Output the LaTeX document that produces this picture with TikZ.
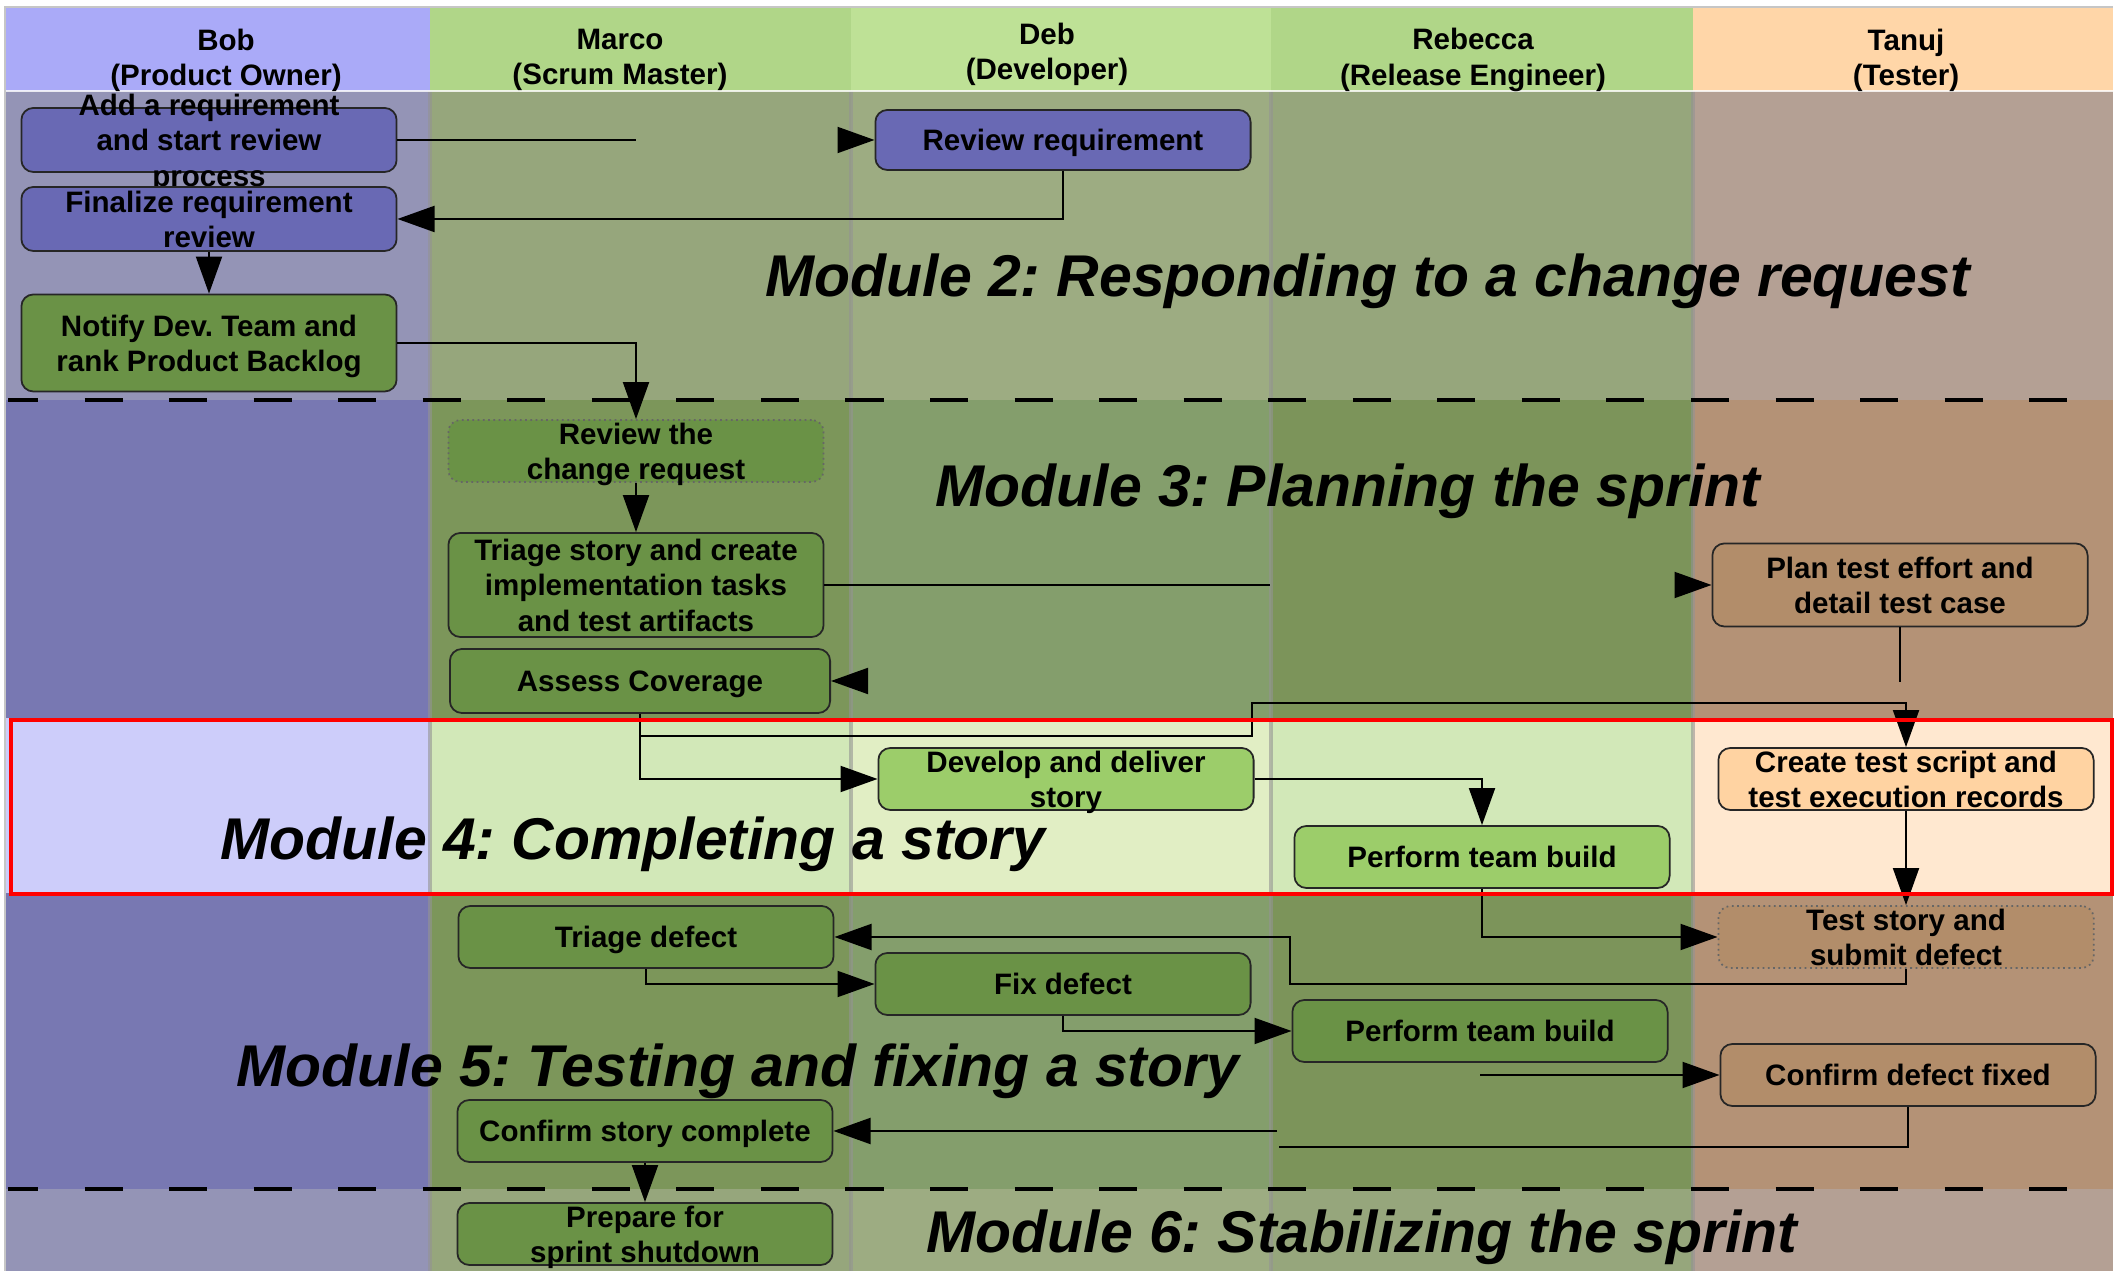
\documentclass[tikz,border=0pt]{standalone}
\usepackage{fontspec}
\setmainfont{Liberation Sans}
\usetikzlibrary{arrows.meta}
\frenchspacing

\definecolor{bobHead}{RGB}{170,170,248}
\definecolor{bobLt}{RGB}{148,148,182}
\definecolor{bobDk}{RGB}{120,120,178}
\definecolor{bobPl}{RGB}{205,205,250}
\definecolor{marHead}{RGB}{176,214,136}
\definecolor{marLt}{RGB}{150,166,124}
\definecolor{marDk}{RGB}{124,150,90}
\definecolor{marPl}{RGB}{210,232,184}
\definecolor{debHead}{RGB}{190,225,150}
\definecolor{debLt}{RGB}{157,172,130}
\definecolor{debDk}{RGB}{132,158,108}
\definecolor{debPl}{RGB}{225,238,196}
\definecolor{rebHead}{RGB}{176,214,136}
\definecolor{rebLt}{RGB}{150,166,124}
\definecolor{rebDk}{RGB}{124,148,90}
\definecolor{rebPl}{RGB}{210,232,184}
\definecolor{tanHead}{RGB}{255,214,168}
\definecolor{tanLt}{RGB}{180,160,148}
\definecolor{tanDk}{RGB}{180,146,118}
\definecolor{tanPl}{RGB}{255,232,208}
\definecolor{reqBlue}{RGB}{105,105,180}
\definecolor{taskGreen}{RGB}{106,146,70}
\definecolor{buildGreen}{RGB}{156,205,106}
\definecolor{testBrown}{RGB}{178,141,106}
\definecolor{testPeach}{RGB}{255,211,162}

\newcommand\taskfont{\fontsize{8.4}{10}\selectfont\bfseries}
\newcommand\titlefont{\fontsize{16.75}{20}\selectfont\bfseries\itshape}
\newcommand\tasktext[1]{\smash{\raisebox{-3.1pt}{\begin{tabular}{@{}c@{}}#1\end{tabular}}}}

\begin{document}
\begin{tikzpicture}[
    x=0.01cm,y=-0.01cm,
    every node/.style={font=\taskfont},
    task/.style={draw=black!85, line width=0.5pt, rounded corners=3.4pt, inner sep=0pt,
        minimum width=3.75cm, minimum height=0.62cm},
    bluetask/.style={task, fill=reqBlue, minimum height=0.64cm},
    greentask/.style={task, fill=taskGreen},
    dimtask/.style={task, fill=taskGreen, draw=black!60, densely dotted},
    lighttask/.style={task, fill=buildGreen},
    browntask/.style={task, fill=testBrown},
    peachtask/.style={task, fill=testPeach},
    lanehead/.style={align=center},
    modtitle/.style={anchor=base west, inner sep=0pt, font=\titlefont},
    wire/.style={draw=black, line width=0.55pt},
    flow/.style={wire, -{Triangle[length=0.37cm,width=0.26cm]}},
    bandline/.style={draw=black, line width=1.4pt, dash pattern=on 0.38cm off 0.465cm, dash phase=0.08cm},
    lanesep/.style={draw=gray!85, line width=1pt, opacity=0.6},
    focus/.style={draw=red, line width=1.4pt}
]
    \useasboundingbox (0,0) rectangle (2118,1271);

    \foreach \xa/\xb/\hd/\lt/\dk/\pl in {6/430/bobHead/bobLt/bobDk/bobPl,
        430/851/marHead/marLt/marDk/marPl, 851/1271/debHead/debLt/debDk/debPl,
        1271/1693/rebHead/rebLt/rebDk/rebPl, 1693/2113/tanHead/tanLt/tanDk/tanPl} {
        \fill[\hd] (\xa,8) rectangle (\xb,91);
        \fill[\lt] (\xa,91) rectangle (\xb,400);
        \fill[\dk] (\xa,400) rectangle (\xb,718);
        \fill[\pl] (\xa,718) rectangle (\xb,893);
        \fill[\dk] (\xa,893) rectangle (\xb,1189);
        \fill[\lt] (\xa,1189) rectangle (\xb,1271);
    }
    \foreach \x in {430,851,1271,1693} {
        \draw[lanesep] (\x,91) -- (\x,1271);
    }
    \draw[white, line width=0.8pt, opacity=0.8] (6,91) -- (2113,91);
    \draw[gray!45, line width=0.6pt] (5,1271) -- (5,7) -- (2113,7);
    \draw[bandline] (8,400) -- (2113,400);
    \draw[bandline] (8,1189) -- (2113,1189);

    \foreach \cx/\cy/\who/\role in {226/60/Bob/Product Owner, 620/60/Marco/Scrum Master,
        1047/54/Deb/Developer, 1473/60/Rebecca/Release Engineer, 1906/60/Tanuj/Tester} {
        \node[lanehead] (head-\who) at (\cx,\cy) {\who\\(\role)};
    }

    \node[bluetask] (addreq) at (209,140) {\tasktext{Add a requirement\\and start review\\process}};
    \node[bluetask] (finreq) at (209,219) {\tasktext{Finalize requirement\\review}};
    \node[greentask, minimum height=0.97cm] (notify) at (209,343) {\tasktext{Notify Dev. Team and\\rank Product Backlog}};
    \node[bluetask, minimum height=0.60cm] (revreq) at (1063,140) {\tasktext{Review requirement}};

    \node[dimtask] (revcr) at (636,451) {\tasktext{Review the\\change request}};
    \node[greentask, minimum height=1.04cm] (triage) at (636,585) {\tasktext{Triage story and create\\implementation tasks\\and test artifacts}};
    \node[greentask, minimum width=3.8cm, minimum height=0.64cm] (assess) at (640,681) {\tasktext{Assess Coverage}};
    \node[browntask, minimum height=0.83cm] (plantest) at (1900,585) {\tasktext{Plan test effort and\\detail test case}};

    \node[lighttask] (develop) at (1066,779) {\tasktext{Develop and deliver\\story}};
    \node[lighttask] (pbuildA) at (1482,857) {\tasktext{Perform team build}};
    \node[peachtask] (create) at (1906,779) {\tasktext{Create test script and\\test execution records}};

    \node[dimtask, fill=testBrown] (teststory) at (1906,937) {\tasktext{Test story and\\submit defect}};
    \node[greentask] (trdefect) at (646,937) {\tasktext{Triage defect}};
    \node[greentask] (fixdef) at (1063,984) {\tasktext{Fix defect}};
    \node[greentask] (pbuildB) at (1480,1031) {\tasktext{Perform team build}};
    \node[browntask] (cfixed) at (1908,1075) {\tasktext{Confirm defect fixed}};
    \node[greentask] (cstory) at (645,1131) {\tasktext{Confirm story complete}};
    \node[greentask] (prepare) at (645,1234) {\tasktext{Prepare for\\sprint shutdown}};

    \coordinate (gapA) at (636,140);
    \coordinate (tipA) at (838,140);
    \coordinate (gapB) at (1270,585);
    \coordinate (tipB) at (1675,585);
    \coordinate (tipC) at (867,681);
    \coordinate (gapC) at (1900,682);
    \coordinate (forkA) at (640,736);
    \coordinate (bendA) at (1252,703);
    \coordinate (bendB) at (1290,984);
    \coordinate (gapD) at (1480,1075);
    \coordinate (gapE) at (1279,1147);
    \coordinate (gapF) at (1277,1131);

    \draw[wire] (addreq.east) -- (gapA);
    \draw[flow] (tipA) -- (revreq.west);
    \draw[flow] (revreq.south) |- (finreq.east);
    \draw[flow] (finreq.south) -- (notify.north);
    \draw[flow] (notify.east) -| (revcr.north);
    \draw[flow] (revcr.south) -- (triage.north);
    \draw[wire] (triage.east) -- (gapB);
    \draw[flow] (tipB) -- (plantest.west);
    \draw[flow] (tipC) -- (assess.east);
    \draw[wire] (plantest.south) -- (gapC);
    \draw[flow] (assess.south) |- (develop.west);
    \draw[flow] (forkA) -| (bendA) -| (create.north);
    \draw[flow] (develop.east) -| (pbuildA.north);
    \draw[flow] (create.south) -- (teststory.north);
    \draw[flow] (pbuildA.south) |- (teststory.west);
    \draw[flow] (teststory.south) |- (bendB) |- (trdefect.east);
    \draw[flow] (trdefect.south) |- (fixdef.west);
    \draw[flow] (fixdef.south) |- (pbuildB.west);
    \draw[flow] (gapD) -- (cfixed.west);
    \draw[wire] (cfixed.south) |- (gapE);
    \draw[flow] (gapF) -- (cstory.east);
    \draw[flow] (cstory.south) -- (prepare.north);

    \node[modtitle] (mod2) at (765,297) {Module 2: Responding to a change request};
    \node[modtitle] (mod3) at (935,507) {Module 3: Planning the sprint};
    \node[modtitle] (mod4) at (220,860) {Module 4: Completing a story};
    \node[modtitle] (mod5) at (236,1087) {Module 5: Testing and fixing a story};
    \node[modtitle] (mod6) at (926,1253) {Module 6: Stabilizing the sprint};

    \draw[focus] (11,720) rectangle (2112,894);
\end{tikzpicture}
\end{document}
